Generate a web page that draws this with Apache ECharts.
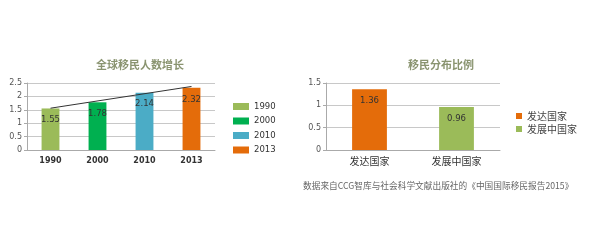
<!DOCTYPE html>
<html><head><meta charset="utf-8">
<script src="https://cdn.jsdelivr.net/npm/echarts@6/dist/echarts.min.js"></script>
<style>html,body{margin:0;padding:0;background:#fff}#c{width:606px;height:245px}</style>
</head><body><div id="c"></div>
<script>
const years = ['1990','2000','2010','2013'];
const migrants = [1.55, 1.78, 2.14, 2.32];
const yearColors = ['#9bbb59','#00b050','#4bacc6','#e46c0a'];
const trendEnds = [1.56, null, null, 2.37];
const regions = ['发达国家','发展中国家'];
const regionValues = [1.36, 0.96];
const regionColors = ['#e46c0a','#9bbb59'];
const leftTicks = [0, 0.5, 1, 1.5, 2, 2.5];
const rightTicks = [0, 0.5, 1, 1.5];

const font = '"Noto Sans CJK SC", "DejaVu Sans", sans-serif';
const chart = echarts.init(document.getElementById('c'));
const series = [];
years.forEach((y, i) => {
  series.push({
    name: y, type: 'bar', stack: 'a', xAxisIndex: 0, yAxisIndex: 0, barWidth: '38%',
    data: migrants.map((v, j) => j === i ? v : '-'),
    itemStyle: { color: yearColors[i] },
    label: { show: true, position: 'insideTop', distance: 7, fontSize: 8.5, color: '#333', fontFamily: 'DejaVu Sans' }
  });
});
series.push({
  type: 'line', xAxisIndex: 0, yAxisIndex: 0, data: trendEnds, connectNulls: true,
  symbol: 'none', lineStyle: { color: '#333', width: 1 }, z: 5, silent: true
});
regions.forEach((r, i) => {
  series.push({
    name: r, type: 'bar', stack: 'b', xAxisIndex: 1, yAxisIndex: 1, barWidth: '40%',
    data: regionValues.map((v, j) => j === i ? v : '-'),
    itemStyle: { color: regionColors[i] },
    label: { show: true, position: 'insideTop', distance: 7, fontSize: 8.5, color: '#333', fontFamily: 'DejaVu Sans' }
  });
});
const yAx = (max, ticks) => ({
  type: 'value', min: 0, max: max, interval: 0.5,
  axisLine: { show: true, lineStyle: { color: '#aaa' } },
  axisTick: { show: true, length: 3, lineStyle: { color: '#aaa' } },
  axisLabel: { fontSize: 8, color: '#555', margin: 5, fontFamily: 'DejaVu Sans',
    formatter: v => ticks.includes(v) ? String(v) : '' },
  splitLine: { lineStyle: { color: '#c8c8c8' } }
});
chart.setOption({
  animation: false,
  textStyle: { fontFamily: font },
  title: [
    { text: '全球移民人数增长', left: 135, top: 54, textAlign: 'center',
      textStyle: { fontSize: 11, fontWeight: 'bold', color: '#8a9470', fontFamily: font } },
    { text: '移民分布比例', left: 436, top: 54, textAlign: 'center',
      textStyle: { fontSize: 11, fontWeight: 'bold', color: '#8a9470', fontFamily: font } }
  ],
  grid: [
    { left: 27, top: 83, width: 188, height: 67 },
    { left: 326, top: 83, width: 174, height: 67 }
  ],
  xAxis: [
    { type: 'category', gridIndex: 0, data: years,
      axisLine: { lineStyle: { color: '#aaa' } }, axisTick: { length: 3, lineStyle: { color: '#aaa' } },
      axisLabel: { fontSize: 8, color: '#333', fontWeight: 'bold', margin: 7, fontFamily: 'DejaVu Sans' } },
    { type: 'category', gridIndex: 1, data: regions,
      axisLine: { lineStyle: { color: '#aaa' } }, axisTick: { length: 3, lineStyle: { color: '#aaa' } },
      axisLabel: { fontSize: 10, color: '#333', margin: 6, fontFamily: font } }
  ],
  yAxis: [
    Object.assign(yAx(2.5, leftTicks), { gridIndex: 0 }),
    Object.assign(yAx(1.5, rightTicks), { gridIndex: 1 })
  ],
  legend: [
    { data: years, orient: 'vertical', left: 228, top: 97, itemWidth: 16, itemHeight: 7, itemGap: 5.5,
      icon: 'rect', textStyle: { fontSize: 8.5, color: '#333', fontFamily: 'DejaVu Sans' } },
    { data: regions, orient: 'vertical', left: 511, top: 106, itemWidth: 6, itemHeight: 6, itemGap: 3,
      icon: 'rect', textStyle: { fontSize: 10, color: '#444', fontFamily: font } }
  ],
  graphic: [
    { type: 'text', left: 303, top: 181,
      style: { text: '数据来自CCG智库与社会科学文献出版社的《中国国际移民报告2015》', fontSize: 8.7, fill: '#666', fontFamily: font } }
  ],
  series: series
});
</script></body></html>
